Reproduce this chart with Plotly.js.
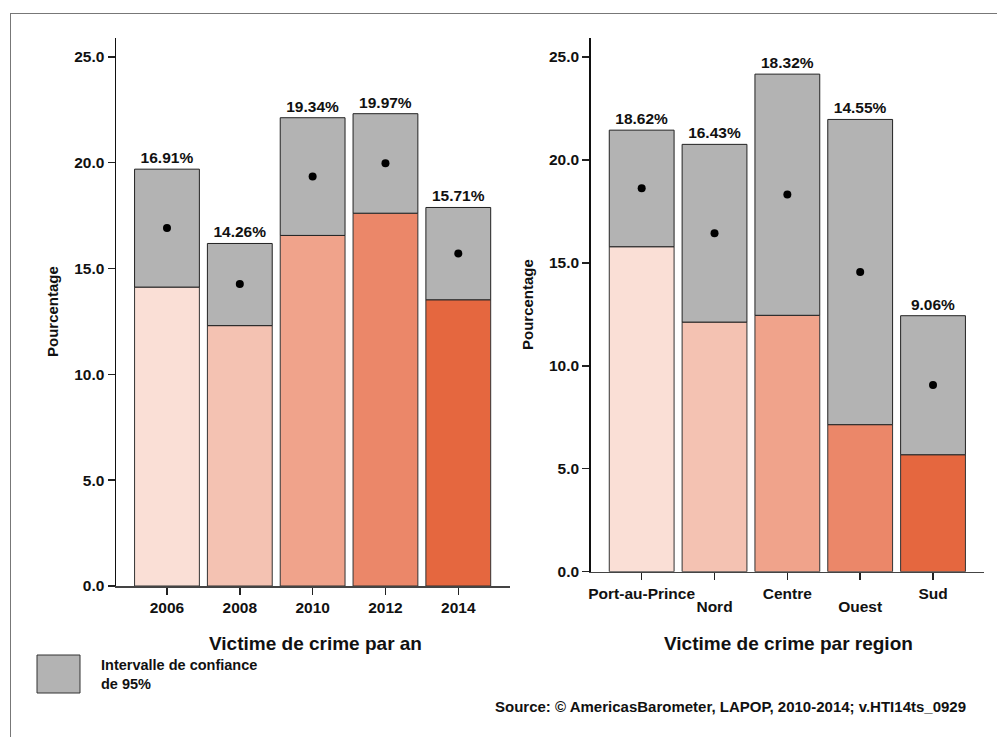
<!DOCTYPE html>
<html>
<head>
<meta charset="utf-8">
<script src="https://cdn.plot.ly/plotly-3.0.1.min.js"></script>
<style>html,body{margin:0;padding:0;background:#fff;}#chart{width:997px;height:737px;}</style>
</head>
<body>
<div id="chart"></div>
<script>
// ---- data ----
const years = ['2006', '2008', '2010', '2012', '2014'];
const yearMean = [16.91, 14.26, 19.34, 19.97, 15.71];
const yearLower = [14.12, 12.30, 16.56, 17.61, 13.52];
const yearUpper = [19.69, 16.18, 22.12, 22.31, 17.88];

const regions = ['Port-au-Prince', 'Nord', 'Centre', 'Ouest', 'Sud'];
const regionMean = [18.62, 16.43, 18.32, 14.55, 9.06];
const regionLower = [15.78, 12.12, 12.45, 7.14, 5.68];
const regionUpper = [21.44, 20.75, 24.16, 21.96, 12.43];

const yTicks = [0, 5, 10, 15, 20, 25];

const fillColors = ['#FADFD6', '#F4C2B2', '#F0A38B', '#EB8769', '#E5673F'];
const ciColor = '#B3B3B3';

// ---- helpers ----
const W = 997, H = 737;
const px = x => x / W;
const py = y => 1 - y / H;
const FONT = 'Liberation Sans, Arial, Helvetica, sans-serif';
const fmt = v => v.toFixed(2) + '%';

function panel(cats, mean, lower, upper, xa, ya) {
  const ciHeight = upper.map((u, i) => u - lower[i]);
  return [
    {
      type: 'bar', x: cats, y: lower, base: 0, xaxis: xa, yaxis: ya,
      marker: {color: fillColors, line: {color: '#333', width: 1}},
      width: 0.89, showlegend: false, hoverinfo: 'skip'
    },
    {
      type: 'bar', x: cats, y: ciHeight, base: lower, xaxis: xa, yaxis: ya,
      marker: {color: ciColor, line: {color: '#222', width: 1}},
      width: 0.89, showlegend: false,
      text: mean.map(fmt), textposition: 'outside', cliponaxis: false,
      textfont: {family: FONT, size: 15.5, color: '#111', weight: 'bold'},
      hoverinfo: 'skip'
    },
    {
      type: 'scatter', mode: 'markers', x: cats, y: mean, xaxis: xa, yaxis: ya,
      marker: {color: '#000', size: 8}, showlegend: false, cliponaxis: false
    }
  ];
}

// staggered region labels: even positions on the main axis, odd ones on an overlay axis one line lower
const upperIdx = [0, 2, 4], lowerIdx = [1, 3];

const data = [].concat(
  panel(years, yearMean, yearLower, yearUpper, 'x', 'y'),
  panel(regions, regionMean, regionLower, regionUpper, 'x2', 'y2'),
  [{
    // invisible carrier so the overlay label axis is drawn
    type: 'scatter', mode: 'markers', x: lowerIdx, y: lowerIdx.map(i => regionMean[i]),
    xaxis: 'x3', yaxis: 'y2', marker: {opacity: 0, size: 1}, showlegend: false, hoverinfo: 'skip'
  }]
);

const tickFont = {family: FONT, size: 15.5, color: '#111', weight: 'bold'};
const xBase = {
  type: 'category', showline: true, linecolor: '#444', linewidth: 1.5,
  ticks: 'outside', ticklen: 7, tickcolor: '#222', tickwidth: 1.5,
  showgrid: false, zeroline: false, tickfont: tickFont, fixedrange: true
};
const yBase = {
  range: [0, 25.9], tickvals: yTicks, tickformat: '.1f',
  showline: true, linecolor: '#111', linewidth: 1.5,
  ticks: 'outside', ticklen: 7, tickcolor: '#222', tickwidth: 1.5,
  showgrid: false, zeroline: false, tickfont: tickFont, fixedrange: true
};

const layout = {
  width: W, height: H,
  margin: {l: 0, r: 0, t: 0, b: 0},
  paper_bgcolor: '#fff', plot_bgcolor: 'rgba(0,0,0,0)',
  barmode: 'overlay', showlegend: false,
  font: {family: FONT, color: '#111'},
  xaxis: Object.assign({}, xBase, {domain: [px(116), px(510)], range: [-0.70, 4.71], anchor: 'y'}),
  yaxis: Object.assign({}, yBase, {domain: [py(586), py(37.7)], anchor: 'x'}),
  xaxis2: Object.assign({}, xBase, {domain: [px(590.7), px(984)], range: [-0.70, 4.70], anchor: 'y2',
    tickmode: 'array', tickvals: regions,
    ticktext: regions.map((r, i) => upperIdx.includes(i) ? r : ' ')}),
  xaxis3: {type: 'linear', overlaying: 'x2', anchor: 'y2', range: [-0.70, 4.70],
    tickmode: 'array', tickvals: lowerIdx, ticktext: lowerIdx.map(i => regions[i]),
    showline: false, showgrid: false, zeroline: false, ticks: 'outside', ticklen: 7,
    tickcolor: 'rgba(0,0,0,0)', ticklabelstandoff: 14, tickfont: tickFont, fixedrange: true},
  yaxis2: Object.assign({}, yBase, {domain: [py(571.7), py(38.3)], anchor: 'x2'}),
  shapes: [
    {type: 'line', xref: 'paper', yref: 'paper', x0: px(10), x1: px(1000), y0: py(13.5), y1: py(13.5),
     line: {color: '#777', width: 1}},
    {type: 'line', xref: 'paper', yref: 'paper', x0: px(10.5), x1: px(10.5), y0: py(13.5), y1: py(740),
     line: {color: '#777', width: 1}},
    {type: 'rect', xref: 'paper', yref: 'paper', x0: px(37), x1: px(80), y0: py(655), y1: py(693),
     fillcolor: ciColor, line: {color: '#333', width: 1}}
  ],
  annotations: [
    {text: 'Victime de crime par an', xref: 'paper', yref: 'paper', x: px(315), y: py(643),
     xanchor: 'center', yanchor: 'middle', showarrow: false,
     font: {family: FONT, size: 19, color: '#111', weight: 'bold'}},
    {text: 'Victime de crime par region', xref: 'paper', yref: 'paper', x: px(788), y: py(643),
     xanchor: 'center', yanchor: 'middle', showarrow: false,
     font: {family: FONT, size: 19, color: '#111', weight: 'bold'}},
    {text: 'Pourcentage', xref: 'paper', yref: 'paper', x: px(52), y: py(312), textangle: -90,
     xanchor: 'center', yanchor: 'middle', showarrow: false,
     font: {family: FONT, size: 15, color: '#111', weight: 'bold'}},
    {text: 'Pourcentage', xref: 'paper', yref: 'paper', x: px(527), y: py(305), textangle: -90,
     xanchor: 'center', yanchor: 'middle', showarrow: false,
     font: {family: FONT, size: 15, color: '#111', weight: 'bold'}},
    {text: 'Intervalle de confiance<br>de 95%', xref: 'paper', yref: 'paper', x: px(99), y: py(674.5),
     xanchor: 'left', yanchor: 'middle', align: 'left', showarrow: false,
     font: {family: FONT, size: 14.5, color: '#111', weight: 'bold'}},
    {text: 'Source: © AmericasBarometer, LAPOP, 2010-2014; v.HTI14ts_0929', xref: 'paper', yref: 'paper',
     x: px(968), y: py(706), xanchor: 'right', yanchor: 'middle', showarrow: false,
     font: {family: FONT, size: 15, color: '#111', weight: 'bold'}}
  ]
};

Plotly.newPlot('chart', data, layout, {staticPlot: true, displayModeBar: false});
</script>
</body>
</html>
